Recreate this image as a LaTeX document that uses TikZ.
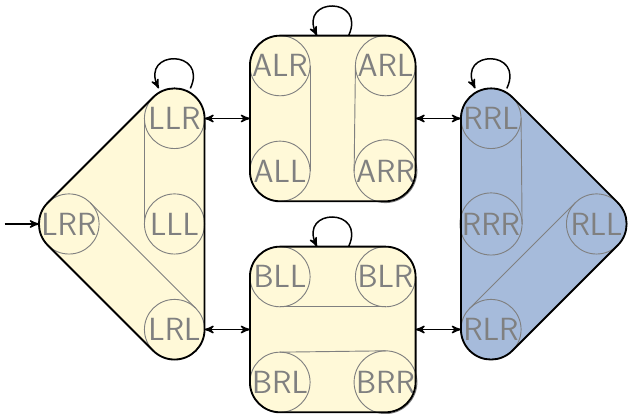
\documentclass[tikz,border=0pt]{standalone}
\usepackage{tikz}
\usetikzlibrary{arrows, backgrounds}
\definecolor{macroyellow}{RGB}{255,249,216}
\definecolor{macroblue}{RGB}{166,187,219}
\tikzstyle{state} = [circle, draw=gray, line width=0.5pt, text=gray, minimum size=1.14cm, inner sep=0pt, outer sep=0pt, font=\LARGE\sffamily]
\tikzstyle{macro} = [fill=macroyellow]
\tikzstyle{macro2} = [fill=macroblue]
\tikzstyle{outline} = [draw=black, line width=1pt]
\tikzstyle{pair} = [draw=gray, line width=0.5pt]
\tikzstyle{arrow} = [thick, ->, >=stealth']
\tikzstyle{link} = [thick, <->, >=stealth']

\begin{document}
\begin{tikzpicture}[node distance=2cm]
\useasboundingbox (-1.308,-3.602) rectangle (10.597,4.246);

\node (LRR) [state] {LRR};
\node (LLL) [state, right of=LRR] {LLL};
\node (LLR) [state, above of=LLL] {LLR};
\node (LRL) [state, below of=LLL] {LRL};

\node (ALR) [state, right of=LLR, yshift=1cm] {ALR};
\node (ALL) [state, below of=ALR] {ALL};
\node (ARL) [state, right of=ALR] {ARL};
\node (ARR) [state, right of=ALL] {ARR};

\node (BLL) [state, right of=LRL, yshift=1cm] {BLL};
\node (BRL) [state, below of=BLL] {BRL};
\node (BLR) [state, right of=BLL] {BLR};
\node (BRR) [state, right of=BRL] {BRR};

\node (RRL) [state, right of=ARL, yshift=-1cm] {RRL};
\node (RRR) [state, below of=RRL] {RRR};
\node (RLR) [state, below of=RRR] {RLR};
\node (RLL) [state, right of=RRR] {RLL};

% macro-state fills behind, outlines on top
\begin{scope}[on background layer]
\path [macro] (LRR.135) -- (LLR.135) arc[start angle=135, end angle=0, radius=0.57cm] -- (LRL.0) arc[start angle=0, end angle=-135, radius=0.57cm] -- (LRR.225) arc[start angle=225, end angle=135, radius=0.57cm] -- cycle;
\path [macro, rounded corners=0.57cm] (ALL.west |- ALL.south) rectangle (ARL.east |- ARL.north);
\path [macro, rounded corners=0.57cm] (BRL.west |- BRL.south) rectangle (BLR.east |- BLR.north);
\path [macro2] (RLR.180) -- (RRL.180) arc[start angle=180, end angle=45, radius=0.57cm] -- (RLL.45) arc[start angle=45, end angle=-45, radius=0.57cm] -- (RLR.-45) arc[start angle=-45, end angle=-180, radius=0.57cm] -- cycle;
\end{scope}

\draw [pair] (LLR.180) -- (LLL.180);
\draw [pair] (LRR.45) -- (LRL.45);
\draw [pair] (ALR.0) -- (ALL.0);
\draw [pair] (ARL.180) -- (ARR.180);
\draw [pair] (BLL.270) -- (BLR.270);
\draw [pair] (BRL.90) -- (BRR.90);
\draw [pair] (RRL.0) -- (RRR.0);
\draw [pair] (RLR.135) -- (RLL.135);

\draw [outline] (LRR.135) -- (LLR.135) arc[start angle=135, end angle=0, radius=0.57cm] -- (LRL.0) arc[start angle=0, end angle=-135, radius=0.57cm] -- (LRR.225) arc[start angle=225, end angle=135, radius=0.57cm] -- cycle;
\draw [outline, rounded corners=0.57cm] (ALL.west |- ALL.south) rectangle (ARL.east |- ARL.north);
\draw [outline, rounded corners=0.57cm] (BRL.west |- BRL.south) rectangle (BLR.east |- BLR.north);
\draw [outline] (RLR.180) -- (RRL.180) arc[start angle=180, end angle=45, radius=0.57cm] -- (RLL.45) arc[start angle=45, end angle=-45, radius=0.57cm] -- (RLR.-45) arc[start angle=-45, end angle=-180, radius=0.57cm] -- cycle;

\coordinate (start) at ([xshift=-0.65cm]LRR.west);
\coordinate (Atop) at ([xshift=1cm]ALR.north);
\coordinate (Btop) at ([xshift=1cm]BLL.north);

\draw [arrow] (start) -- (LRR.west);
\draw [link] (LLR.east) -- (LLR.east -| ALL.west);
\draw [link] (LRL.east) -- (LRL.east -| BLL.west);
\draw [link] (ARL.east |- RRL.west) -- (RRL.west);
\draw [link] (BLR.east |- RLR.west) -- (RLR.west);

\draw [arrow] ([xshift=0.3cm]LLR.north) to [out=65,in=115,looseness=3.5] ([xshift=-0.3cm]LLR.north);
\draw [arrow] ([xshift=0.3cm]Atop) to [out=65,in=115,looseness=3.5] ([xshift=-0.3cm]Atop);
\draw [arrow] ([xshift=0.3cm]Btop) to [out=65,in=115,looseness=3.5] ([xshift=-0.3cm]Btop);
\draw [arrow] ([xshift=0.3cm]RRL.north) to [out=65,in=115,looseness=3.5] ([xshift=-0.3cm]RRL.north);

\end{tikzpicture}
\end{document}
